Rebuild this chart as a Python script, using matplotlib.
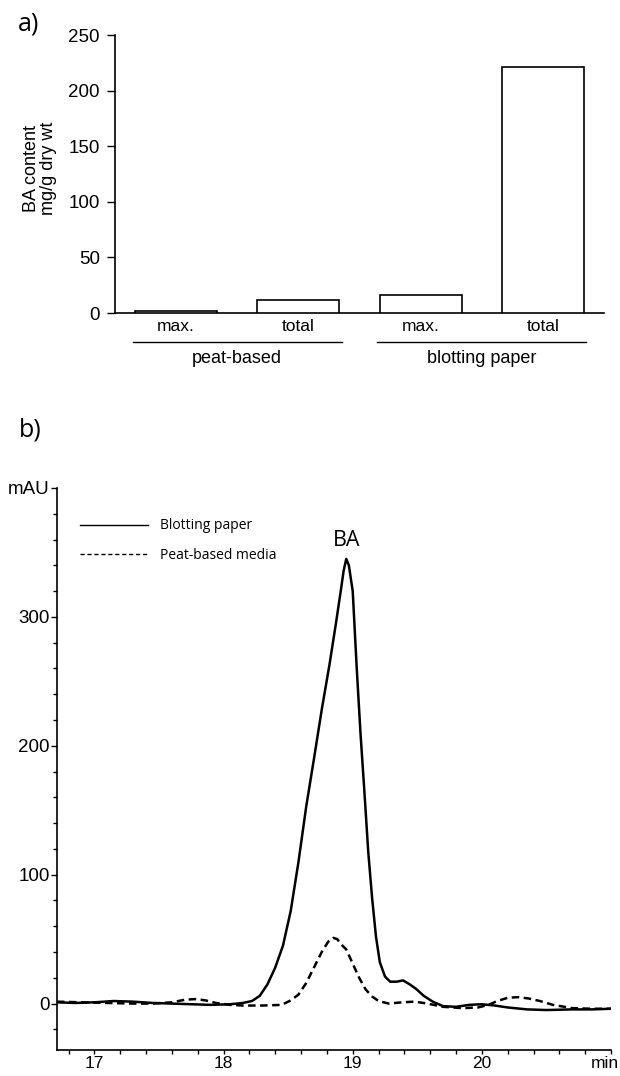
import matplotlib
matplotlib.use("Agg")
import matplotlib.pyplot as plt
from matplotlib.lines import Line2D
from matplotlib.ticker import MultipleLocator
import matplotlib.transforms as mtransforms

plt.rcParams['font.family'] = ['Liberation Sans', 'DejaVu Sans']

# ---------------- Panel a data ----------------
bar_labels = ["max.", "total", "max.", "total"]
bar_values = [2, 11.5, 16.5, 221]
groups = ["peat-based", "blotting paper"]
group_members = [(0, 1), (2, 3)]
a_yticks = [0, 50, 100, 150, 200, 250]

# ---------------- Panel b data ----------------
blot_x = [16.71, 16.85, 17.0, 17.15, 17.3, 17.45, 17.6, 17.75, 17.9, 18.05,
          18.15, 18.22, 18.28, 18.34, 18.40, 18.46, 18.52, 18.58, 18.64, 18.70,
          18.76, 18.82, 18.87, 18.91, 18.93, 18.95, 18.97, 19.00, 19.03, 19.06,
          19.09, 19.12, 19.15, 19.18, 19.21, 19.25, 19.29, 19.34, 19.39, 19.44,
          19.49, 19.55, 19.62, 19.70, 19.80, 19.90, 20.00, 20.10, 20.20, 20.35,
          20.50, 20.70, 20.85, 21.0]
blot_y = [1, 0.5, 1, 2, 1.5, 0.5, 0, -0.5, -1, -0.5,
          0.5, 2, 6, 15, 28, 45, 72, 110, 153, 190,
          228, 263, 295, 322, 336, 345, 340, 320, 262, 210,
          165, 118, 82, 52, 32, 21, 17, 17, 18, 15,
          11.5, 6, 1.5, -2, -2.5, -1, -0.5, -1.5, -3, -4.5,
          -5, -4.5, -4.5, -4]

peat_x = [16.71, 16.9, 17.1, 17.3, 17.45, 17.6, 17.7, 17.78, 17.86, 17.94,
          18.05, 18.15, 18.3, 18.45, 18.52, 18.58, 18.64, 18.70, 18.76, 18.81,
          18.85, 18.88, 18.91, 18.95, 19.00, 19.05, 19.10, 19.15, 19.20, 19.28,
          19.38, 19.48, 19.58, 19.70, 19.85, 19.97, 20.05, 20.12, 20.20, 20.28,
          20.36, 20.45, 20.55, 20.70, 20.85, 21.0]
peat_y = [1.5, 1, 0.5, 0, 0, 1, 3, 3.5, 2.5, 0.5,
          -1, -1.5, -1.5, -1, 2.5, 7, 16, 28, 40, 48,
          51, 50, 46, 42, 31, 20, 11, 5.5, 2, 0,
          1, 1.5, 0, -2.5, -3.5, -3, -1, 2, 4.5, 5,
          4, 2, -1, -3.5, -4, -4]

b_xticks = [17, 18, 19, 20, 21]
b_xticklabels = ["17", "18", "19", "20", "min"]
b_yticks = [0, 100, 200, 300, 400]
b_yticklabels = ["0", "100", "200", "300", "mAU"]
legend_labels = ["Blotting paper", "Peat-based media"]

W, H = 620, 1076
fig = plt.figure(figsize=(W / 100, H / 100), dpi=100)
myriad = ["Open Sans", "DejaVu Sans"]

# ---------------- Panel a ----------------
ax1 = fig.add_axes([115 / W, 1 - 313 / H, (604 - 115) / W, (313 - 35) / H])
bw = 0.67
xs = list(range(len(bar_values)))
ax1.bar(xs, bar_values, width=bw, color="white", edgecolor="black", linewidth=1.2, zorder=3)
ax1.set_xlim(-0.5, 3.5)
ax1.set_ylim(0, 250)
ax1.set_yticks(a_yticks)
ax1.tick_params(axis="y", direction="out", length=6, width=1, labelsize=13.5, pad=5)
ax1.set_xticks(xs)
ax1.set_xticklabels(bar_labels, fontsize=12.5)
ax1.tick_params(axis="x", length=0, pad=4)
for s in ["top", "right"]:
    ax1.spines[s].set_visible(False)
for s in ["left", "bottom"]:
    ax1.spines[s].set_linewidth(1.2)
ax1.set_ylabel("BA content\nmg/g dry wt", fontsize=13, linespacing=1.05)
ax1.yaxis.set_label_coords(-0.118, 0.52)

trans = mtransforms.blended_transform_factory(ax1.transData, ax1.transAxes)
for g, (i0, i1) in zip(groups, group_members):
    x0 = xs[i0] - bw / 2 - 0.02
    x1 = xs[i1] + bw / 2 + 0.02
    ax1.add_line(Line2D([x0, x1], [-0.104, -0.104], transform=trans, color="black",
                        linewidth=1.0, clip_on=False))
    ax1.text((x0 + x1) / 2, -0.162, g, transform=trans, ha="center", va="center",
             fontsize=13)

fig.text(18 / W, 1 - 24 / H, "a)", fontsize=18, family=myriad, ha="left", va="center")

# ---------------- Panel b ----------------
ax2 = fig.add_axes([57 / W, 1 - 1050 / H, (611 - 57) / W, (1050 - 488) / H])
ax2.plot(blot_x, blot_y, color="black", linewidth=1.8, solid_joinstyle="round")
ax2.plot(peat_x, peat_y, color="black", linewidth=1.8, linestyle=(0, (3.0, 1.8)))
ax2.set_xlim(16.71, 21.0)
ax2.set_ylim(-36, 400)
ax2.set_xticks(b_xticks)
ax2.set_xticklabels(b_xticklabels)
ax2.set_yticks(b_yticks)
ax2.set_yticklabels(b_yticklabels)
ax2.xaxis.set_minor_locator(MultipleLocator(0.2))
ax2.yaxis.set_minor_locator(MultipleLocator(20))
ax2.tick_params(which="major", direction="out", length=4.5, width=1, labelsize=13.5, pad=0.8)
ax2.tick_params(axis="x", which="major", length=3, labelsize=12.5, pad=1)
ax2.tick_params(which="minor", direction="out", length=3, width=1)
for s in ["top", "right"]:
    ax2.spines[s].set_visible(False)
for s in ["left", "bottom"]:
    ax2.spines[s].set_linewidth(1.2)

# shift the last x label ("min") so that it sits inside the figure like the reference
lastlab = ax2.get_xticklabels()[-1]
lastlab.set_horizontalalignment("right")
lastlab.set_transform(lastlab.get_transform() +
                      mtransforms.ScaledTranslation(8 / 100, 0, fig.dpi_scale_trans))

handles = [Line2D([], [], color="black", linewidth=1.0),
           Line2D([], [], color="black", linewidth=1.0, linestyle=(0, (3, 2)))]
leg = ax2.legend(handles, legend_labels, loc="upper left", bbox_to_anchor=(0.019, 0.968),
                 frameon=False, handlelength=4.9, handletextpad=0.85, labelspacing=1.05,
                 prop={"family": myriad, "size": 10})

ipk = blot_y.index(max(blot_y))
ax2.annotate("BA", xy=(blot_x[ipk], blot_y[ipk]), xytext=(0, 6), textcoords="offset points",
             ha="center", va="bottom", fontsize=15.5, family=myriad)

fig.text(19 / W, 1 - 430 / H, "b)", fontsize=18, family=myriad, ha="left", va="center")

fig.savefig("out.png", dpi=100)
